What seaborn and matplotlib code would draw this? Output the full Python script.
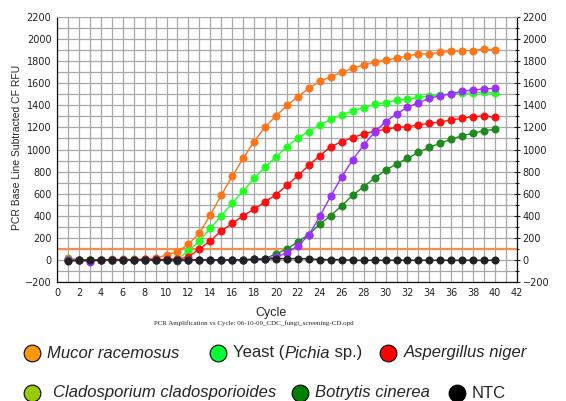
import numpy as np
import pandas as pd
import matplotlib.pyplot as plt
import seaborn as sns

# PCR amplification curves (RFU per cycle)
cycles = list(range(1, 41))
mucor = [15, 3, 2, 3, 4, 5, 6, 8, 15, 45, 75, 142, 242, 407, 588, 757, 920, 1072, 1205, 1304,
         1400, 1479, 1554, 1617, 1660, 1699, 1735, 1766, 1790, 1810, 1826, 1847, 1865, 1865, 1880,
         1889, 1895, 1895, 1910, 1900]
yeast = [5, 2, 0, 2, 3, 2, 1, 0, 0, -5, 8, 81, 172, 285, 400, 515, 622, 738, 838, 933,
         1026, 1108, 1162, 1222, 1273, 1313, 1349, 1379, 1409, 1424, 1447, 1455, 1473, 1485, 1494,
         1503, 1509, 1515, 1518, 1515]
aspergillus = [0, 2, 3, 0, 2, 3, 2, 5, 5, 5, 10, 25, 100, 172, 263, 330, 400, 459, 525, 592,
               675, 765, 857, 944, 1026, 1071, 1108, 1141, 1167, 1182, 1200, 1207, 1222, 1237, 1249,
               1268, 1283, 1298, 1304, 1292]
botrytis = [0, 2, 0, 0, 2, 0, 0, 0, 0, -5, -12, 0, 0, 0, 0, 0, 2, 5, 12, 55,
            97, 166, 230, 325, 401, 492, 585, 664, 740, 812, 869, 920, 973, 1020, 1056,
            1093, 1126, 1147, 1171, 1183]
cladosporium = [2, 0, -15, 0, 0, 2, 0, 0, 0, 0, 0, -2, -2, -2, 0, 0, 0, 5, 12, 25,
                66, 128, 226, 395, 580, 752, 908, 1041, 1156, 1252, 1322, 1382, 1424, 1464, 1488,
                1503, 1530, 1539, 1548, 1554]
ntc = [-10, -5, -5, 0, 0, 0, 0, 0, 0, 0, 0, 0, 0, 0, 0, 0, 2, 5, 8, 12,
       12, 12, 10, 3, 3, 3, -3, -3, -3, -3, -3, -3, -3, -3, -3, -3, -3, -3, -3, -3]
threshold = 100

sample_names = ['Mucor', 'Yeast', 'Aspergillus', 'Botrytis', 'Cladosporium', 'NTC']
line_colors = {'Mucor': '#ff7518', 'Yeast': '#22ff22', 'Aspergillus': '#ff1010',
               'Botrytis': '#1e8b1e', 'Cladosporium': '#9b30ff', 'NTC': '#222222'}

legend_labels = [['Mucor racemosus', 'Yeast (|Pichia| sp.)', 'Aspergillus niger'],
                 ['Cladosporium cladosporioides', 'Botrytis cinerea', 'NTC']]
legend_colors = [['#ff9900', '#00ff33', '#ff0000'], ['#99cc00', '#008000', '#000000']]

frames = []
for name, vals in zip(sample_names, [mucor, yeast, aspergillus, botrytis, cladosporium, ntc]):
    frames.append(pd.DataFrame({'cycle': cycles, 'rfu': vals, 'sample': name}))
df = pd.concat(frames, ignore_index=True)

sns.set_style('white')
plt.rcParams['font.family'] = ['Liberation Sans', 'DejaVu Sans']

W, H = 566, 401
fig = plt.figure(figsize=(W / 100, H / 100), dpi=100)
ax = fig.add_axes([57 / W, 1 - 282 / H, 460 / W, 265 / H])

ax.axhline(threshold, color='#f39050', lw=1.6, zorder=2)
sns.lineplot(data=df, x='cycle', y='rfu', hue='sample', hue_order=sample_names,
             palette=line_colors, estimator=None, sort=False, marker='o', markersize=5.8,
             markeredgewidth=0, linewidth=1, legend=False, ax=ax, zorder=3)

ax.set_xlim(0, 42)
ax.set_ylim(-200, 2200)
ax.set_xticks(np.arange(0, 43, 2))
ax.set_xticks(np.arange(0, 43, 1), minor=True)
ax.set_yticks(np.arange(-200, 2201, 200))
ax.set_yticks(np.arange(-200, 2201, 100), minor=True)
ax.grid(which='both', color='#a8a8a8', lw=0.9)
ax.set_axisbelow(True)
ax.tick_params(which='major', direction='inout', length=5, width=0.8, labelsize=7,
               right=True, labelright=True, pad=1.5, colors='#222222')
ax.tick_params(which='minor', direction='inout', length=3, width=0.8, right=True)
for lab in ax.get_xticklabels() + ax.get_yticklabels():
    lab.set_fontfamily('DejaVu Sans')
ax.set_xlabel('')
ax.set_ylabel('')
for side in ['left', 'bottom', 'right']:
    ax.spines[side].set_color('#111111')
    ax.spines[side].set_linewidth(0.9)
ax.spines['top'].set_color('#a8a8a8')

fig.text(17 / W, 1 - 147 / H, 'PCR Base Line Subtracted CF RFU', rotation=90,
         ha='center', va='center', fontsize=7.5)
fig.text(271 / W, 1 - 313 / H, 'Cycle', ha='center', va='center', fontsize=9)
fig.text(254 / W, 1 - 323 / H, 'PCR Amplification vs Cycle: 06-10-09_CDC_fungi_screening-CD.opd',
         ha='center', va='center', fontsize=5, family='Liberation Serif')

# legend drawn by hand on an overlay in pixel coordinates
lax = fig.add_axes([0, 0, 1, 1])
lax.set_xlim(0, W)
lax.set_ylim(H, 0)
lax.axis('off')
circle_x = [[32, 218, 388], [32, 300, 457]]
text_x = [[47, 233, 404], [53, 315, 472]]
row_y = [353, 393]
fig.canvas.draw()
renderer = fig.canvas.get_renderer()
for r in range(2):
    for i in range(3):
        lax.scatter([circle_x[r][i]], [row_y[r]], s=145, color=legend_colors[r][i],
                    edgecolor='black', linewidth=0.8, zorder=3, clip_on=False)
        label = legend_labels[r][i]
        x = text_x[r][i]
        if '|' in label:
            parts = label.split('|')
            styles = ['normal', 'italic', 'normal']
        else:
            parts = [label]
            styles = ['normal' if label == 'NTC' else 'italic']
        for part, st in zip(parts, styles):
            t = lax.text(x, row_y[r], part, fontsize=12, style=st, ha='left', va='center')
            bb = t.get_window_extent(renderer=renderer)
            x += bb.width

fig.savefig('out.png', dpi=100)
